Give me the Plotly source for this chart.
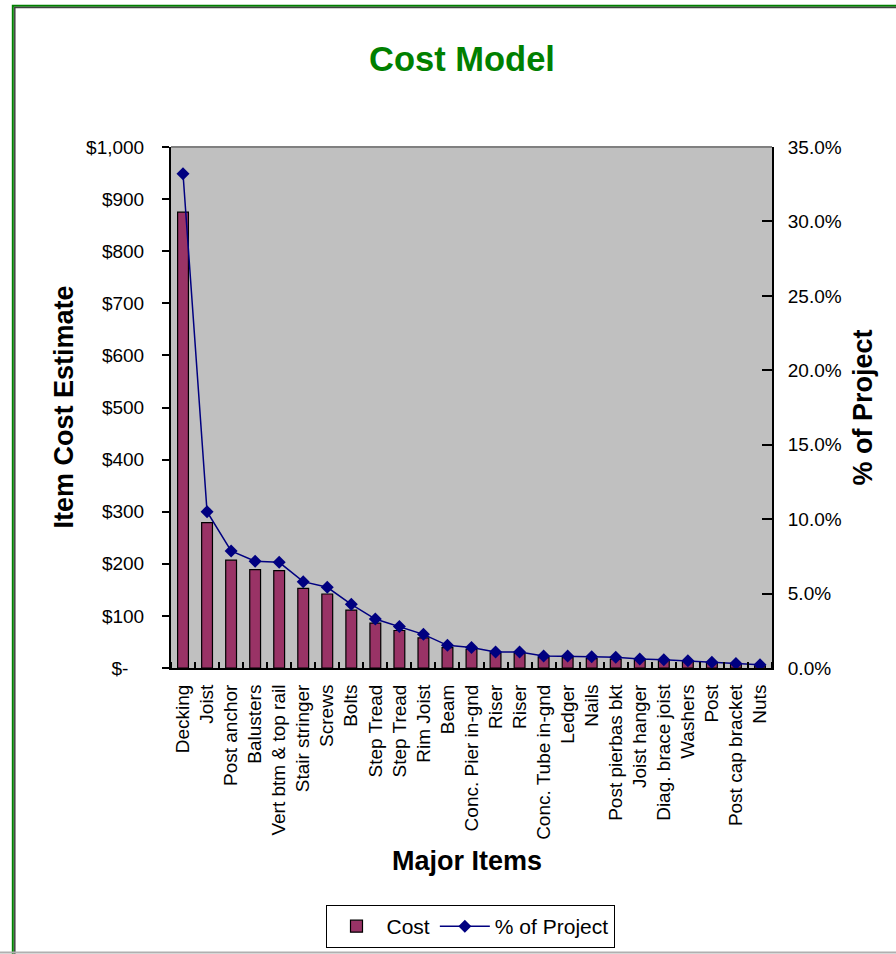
import plotly.graph_objects as go

# ---------------- data ----------------
items = ["Decking", "Joist", "Post anchor", "Balusters", "Vert btm & top rail",
         "Stair stringer", "Screws", "Bolts", "Step Tread", "Step Tread",
         "Rim Joist", "Beam", "Conc. Pier in-gnd", "Riser", "Riser",
         "Conc. Tube in-gnd", "Ledger", "Nails", "Post pierbas bkt",
         "Joist hanger", "Diag. brace joist", "Washers", "Post",
         "Post cap bracket", "Nuts"]
cost = [875, 279, 207, 189, 187, 153, 142, 111, 86, 72, 58, 39, 36, 28, 28,
        20, 20, 18, 17, 15, 15, 13, 10, 7, 4]
pct_of_project = [0.332, 0.105, 0.0786, 0.0717, 0.0710, 0.0580, 0.0542,
                  0.0428, 0.0329, 0.0278, 0.0226, 0.0152, 0.0137, 0.0107,
                  0.0107, 0.0081, 0.0081, 0.0076, 0.0072, 0.0060, 0.0055,
                  0.0049, 0.0038, 0.0031, 0.0022]
cost_ticks = [0, 100, 200, 300, 400, 500, 600, 700, 800, 900, 1000]
cost_tick_labels = ["$-\u00a0\u00a0\u00a0", "$100", "$200", "$300", "$400", "$500",
                    "$600", "$700", "$800", "$900", "$1,000"]

# ---------------- layout geometry (page pixels) ----------------
W, H = 896, 954
L, R, T, B = 171, 772, 147, 668  # plot area in pixels

def px(x):
    return (x - L) / (R - L)

def py(y):
    return (B - y) / (B - T)

FONT = "Liberation Sans, Arial, sans-serif"
pos = list(range(len(items)))

fig = go.Figure()
fig.add_trace(go.Bar(
    x=pos, y=cost, name="Cost", width=0.45,
    marker=dict(color="#993366", line=dict(color="#000000", width=1.2)),
    yaxis="y",
))
fig.add_trace(go.Scatter(
    x=pos, y=pct_of_project, name="% of Project", mode="lines+markers",
    line=dict(color="#000080", width=1.5),
    marker=dict(symbol="diamond", size=10, color="#000080"),
    yaxis="y2",
))

fig.update_layout(
    template="none",
    width=W, height=H,
    margin=dict(l=L, r=W - R, t=T, b=H - B, pad=0, autoexpand=False),
    paper_bgcolor="white",
    plot_bgcolor="#C0C0C0",
    font=dict(family=FONT, color="black", size=19),
    showlegend=True,
    title=dict(text="<b>Cost Model</b>", font=dict(size=34.5, color="#008000", family=FONT),
               xref="container", yref="container", x=462 / W, xanchor="center",
               y=1 - 59 / H, yanchor="middle"),
    xaxis=dict(
        range=[-0.5, len(items) - 0.5], automargin=False,
        tickmode="array", tickvals=pos, ticktext=items, tickangle=-90,
        ticks="", showgrid=False, zeroline=False,
        showline=True, linecolor="black", linewidth=2,
        ticklabelstandoff=7,
        tickfont=dict(size=19),
        minor=dict(tickmode="linear", tick0=0.5, dtick=1, ticks="inside",
                   ticklen=6, tickwidth=1.5, tickcolor="black", showgrid=False),
    ),
    yaxis=dict(
        range=[0, 1000], automargin=False,
        tickmode="array", tickvals=cost_ticks, ticktext=cost_tick_labels,
        ticks="outside", ticklen=7, tickwidth=1.5, tickcolor="black",
        showgrid=False, zeroline=False,
        showline=True, linecolor="black", linewidth=2,
        ticklabelstandoff=14, tickfont=dict(size=19),
    ),
    yaxis2=dict(
        range=[0, 0.35], automargin=False,
        dtick=0.05, tickformat=".1%", overlaying="y", side="right",
        ticks="inside", ticklen=10, tickwidth=1.5, tickcolor="black",
        showgrid=False, zeroline=False,
        showline=True, linecolor="black", linewidth=2,
        ticklabelstandoff=10, tickfont=dict(size=19),
    ),
    legend=dict(
        orientation="h", x=px(470), xanchor="center", y=py(905), yanchor="top",
        bgcolor="white", bordercolor="black", borderwidth=1,
        font=dict(size=21), itemwidth=50,
    ),
    annotations=[
        dict(text="<b>Item Cost Estimate</b>", xref="paper", yref="paper",
             x=px(63), y=0.5, textangle=-90, showarrow=False,
             font=dict(size=27), xanchor="center", yanchor="middle"),
        dict(text="<b>% of Project</b>", xref="paper", yref="paper",
             x=px(862), y=0.5, textangle=-90, showarrow=False,
             font=dict(size=27), xanchor="center", yanchor="middle"),
        dict(text="<b>Major Items</b>", xref="paper", yref="paper",
             x=px(467), y=py(861), showarrow=False,
             font=dict(size=27), xanchor="center", yanchor="middle"),
    ],
    shapes=[
        # top border of plot area
        dict(type="line", xref="paper", yref="paper", x0=0, x1=1, y0=1, y1=1,
             line=dict(color="#808080", width=2)),
        # outer green frame
        dict(type="rect", xref="paper", yref="paper",
             x0=px(12.8), x1=px(W + 20), y0=py(H + 20), y1=py(5.8),
             line=dict(color="#008000", width=2)),
        # inner dark frame
        dict(type="rect", xref="paper", yref="paper",
             x0=px(14.8), x1=px(W + 18), y0=py(H + 18), y1=py(7.6),
             line=dict(color="#404040", width=1.5)),
        # bottom light gray line
        dict(type="line", xref="paper", yref="paper",
             x0=px(0), x1=px(W), y0=py(952.5), y1=py(952.5),
             line=dict(color="#B0B0B0", width=2)),
    ],
)

fig.write_html(
    "out.html",
    config={"displayModeBar": False},
    post_script=(
        "document.documentElement.style.margin='0';"
        "document.documentElement.style.overflow='hidden';"
        "document.body.style.margin='0';"
        "document.body.style.overflow='hidden';"
    ),
)
